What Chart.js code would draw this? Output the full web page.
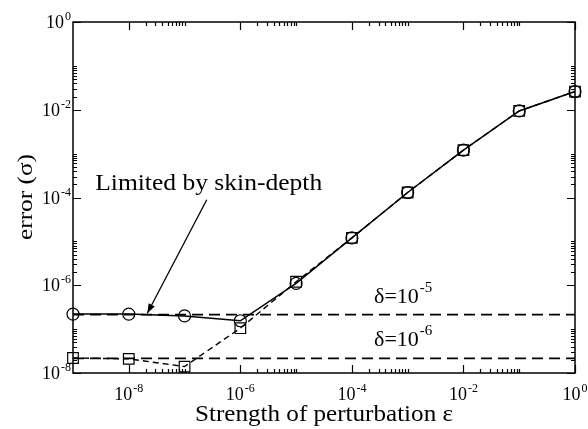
<!DOCTYPE html>
<html>
<head>
<meta charset="utf-8">
<script src="https://cdn.jsdelivr.net/npm/chart.js@4"></script>
<style>
html,body{margin:0;padding:0;background:#fff;}
#wrap{width:588px;height:429px;position:relative;}
</style>
</head>
<body>
<div id="wrap"><canvas id="c" width="588" height="429"></canvas></div>
<script>
// ---- data ----
const eps = [1e-9, 1e-8, 1e-7, 1e-6, 1e-5, 1e-4, 1e-3, 1e-2, 1e-1, 1];
const errCircle = [2.2e-7, 2.2e-7, 2.0e-7, 1.55e-7, 1.1e-6, 1.2e-5, 1.3e-4, 1.2e-3, 9.4e-3, 2.6e-2];
const errSquare = [2.2e-8, 2.1e-8, 1.4e-8, 1.05e-7, 1.2e-6, 1.2e-5, 1.3e-4, 1.2e-3, 9.4e-3, 2.6e-2];
const deltaLevels = [2.15e-7, 2.15e-8];
const deltaLabels = ['-5', '-6'];
const xMajorExp = [-8, -6, -4, -2, 0];
const yMajorExp = [0, -2, -4, -6, -8];
const xTitle = 'Strength of perturbation \u03b5';
const yTitle = 'error (\u03c3)';
const noteText = 'Limited by skin-depth';
// annotation anchors in data units
const noteAnchor = {x: 2.5e-9, y: 1.5e-4};
const arrowTail = {x: 2.5e-7, y: 8.9e-5};
const arrowHead = {x: 2.15e-8, y: 2.3e-7};
const deltaTextX = 2.5e-4;

const pts = (xs, ys) => xs.map((x, i) => ({x, y: ys[i]}));

const SERIF = '"Liberation Serif", "DejaVu Serif", serif';

function supLabel(ctx, base, exp, x, y, align) {
  ctx.font = '18px ' + SERIF;
  const wb = ctx.measureText(base).width;
  ctx.font = '12px ' + SERIF;
  const we = ctx.measureText(exp).width;
  const total = wb + we + 1;
  let x0 = align === 'center' ? x - total / 2 : (align === 'right' ? x - total : x);
  ctx.textAlign = 'left';
  ctx.textBaseline = 'alphabetic';
  ctx.font = '18px ' + SERIF;
  ctx.fillText(base, x0, y);
  ctx.font = '12px ' + SERIF;
  ctx.fillText(exp, x0 + wb + 1, y - 8);
}

// draw text stretched horizontally to a target width
function stretchText(ctx, text, font, x, y, width, align, rot) {
  ctx.save();
  ctx.font = font;
  const w = ctx.measureText(text).width;
  const s = width / w;
  ctx.translate(x, y);
  if (rot) ctx.rotate(rot);
  ctx.scale(s, 1);
  ctx.textAlign = align;
  ctx.textBaseline = 'alphabetic';
  ctx.fillText(text, 0, 0);
  ctx.restore();
}

const decor = {
  id: 'decor',
  afterDatasetsDraw(chart) {
    const ctx = chart.ctx;
    const a = chart.chartArea;
    const xs = chart.scales.x, ys = chart.scales.y;
    ctx.save();
    ctx.strokeStyle = '#000';
    ctx.fillStyle = '#000';
    // frame
    ctx.lineWidth = 1.5;
    ctx.strokeRect(a.left, a.top, a.right - a.left, a.bottom - a.top);
    // ticks
    ctx.lineWidth = 1.2;
    function tickX(v, len) {
      const p = Math.round(xs.getPixelForValue(v)) + 0.5;
      ctx.beginPath();
      ctx.moveTo(p, a.bottom); ctx.lineTo(p, a.bottom - len);
      ctx.moveTo(p, a.top); ctx.lineTo(p, a.top + len);
      ctx.stroke();
    }
    function tickY(v, len) {
      const p = Math.round(ys.getPixelForValue(v)) + 0.5;
      ctx.beginPath();
      ctx.moveTo(a.left, p); ctx.lineTo(a.left + len, p);
      ctx.moveTo(a.right, p); ctx.lineTo(a.right - len, p);
      ctx.stroke();
    }
    xMajorExp.forEach(e => {
      const v = Math.pow(10, e);
      tickX(v, 8);
      if (e < 0) for (let m = 2; m <= 10; m++) tickX(m * v, 4);
    });
    yMajorExp.forEach(e => {
      const v = Math.pow(10, e);
      tickY(v, 8);
      if (e < 0) for (let m = 2; m <= 10; m++) tickY(m * v, 4);
    });
    // tick labels
    xMajorExp.forEach(e => {
      supLabel(ctx, '10', String(e), xs.getPixelForValue(Math.pow(10, e)), a.bottom + 27, 'center');
    });
    yMajorExp.forEach(e => {
      supLabel(ctx, '10', String(e), a.left - 2, ys.getPixelForValue(Math.pow(10, e)) + 6, 'right');
    });
    // axis titles
    stretchText(ctx, xTitle, '23px ' + SERIF, 324, 421, 258, 'center', 0);
    stretchText(ctx, yTitle, '22px ' + SERIF, 32, 197, 86, 'center', -Math.PI / 2);
    // annotation
    stretchText(ctx, noteText, '23px ' + SERIF,
      xs.getPixelForValue(noteAnchor.x), ys.getPixelForValue(noteAnchor.y), 227, 'left', 0);
    const tx = xs.getPixelForValue(arrowTail.x), ty = ys.getPixelForValue(arrowTail.y);
    const hx = xs.getPixelForValue(arrowHead.x), hy = ys.getPixelForValue(arrowHead.y);
    ctx.lineWidth = 1.3;
    ctx.beginPath(); ctx.moveTo(tx, ty); ctx.lineTo(hx, hy); ctx.stroke();
    const ang = Math.atan2(hy - ty, hx - tx);
    const L = 10, W = 0.35;
    ctx.beginPath();
    ctx.moveTo(hx, hy);
    ctx.lineTo(hx - L * Math.cos(ang - W), hy - L * Math.sin(ang - W));
    ctx.lineTo(hx - L * Math.cos(ang + W), hy - L * Math.sin(ang + W));
    ctx.closePath();
    ctx.fill();
    // delta labels
    deltaLevels.forEach((lv, i) => {
      const px = xs.getPixelForValue(deltaTextX);
      const py = ys.getPixelForValue(lv) - 12;
      ctx.font = '22px ' + SERIF;
      const t = '\u03b4=10';
      ctx.textAlign = 'left';
      ctx.fillText(t, px, py);
      const w = ctx.measureText(t).width;
      ctx.font = '15px ' + SERIF;
      ctx.fillText(deltaLabels[i], px + w + 1, py - 11);
    });
    ctx.restore();
  }
};

new Chart(document.getElementById('c'), {
  type: 'scatter',
  data: {
    datasets: [
      {
        data: pts([eps[0], eps[eps.length - 1]], [deltaLevels[0], deltaLevels[0]]),
        showLine: true, borderColor: '#000', borderWidth: 1.8, borderDash: [11, 6],
        pointRadius: 0, clip: false
      },
      {
        data: pts([eps[0], eps[eps.length - 1]], [deltaLevels[1], deltaLevels[1]]),
        showLine: true, borderColor: '#000', borderWidth: 1.8, borderDash: [11, 6],
        pointRadius: 0, clip: false
      },
      {
        data: pts(eps, errSquare),
        showLine: true, borderColor: '#000', borderWidth: 1.4, borderDash: [6, 4],
        pointStyle: 'rect', pointRadius: 7.5, pointBorderWidth: 1.2,
        pointBackgroundColor: 'rgba(0,0,0,0)', pointBorderColor: '#000', clip: false
      },
      {
        data: pts(eps, errCircle),
        showLine: true, borderColor: '#000', borderWidth: 1.5,
        pointStyle: 'circle', pointRadius: 6, pointBorderWidth: 1.2,
        pointBackgroundColor: 'rgba(0,0,0,0)', pointBorderColor: '#000', clip: false
      }
    ]
  },
  options: {
    responsive: false,
    animation: false,
    layout: {padding: {left: 73, top: 22, right: 13, bottom: 56}},
    plugins: {legend: {display: false}, tooltip: {enabled: false}},
    scales: {
      x: {type: 'logarithmic', min: 1e-9, max: 1, display: false},
      y: {type: 'logarithmic', min: 1e-8, max: 1, display: false}
    }
  },
  plugins: [decor]
});
</script>
</body>
</html>
